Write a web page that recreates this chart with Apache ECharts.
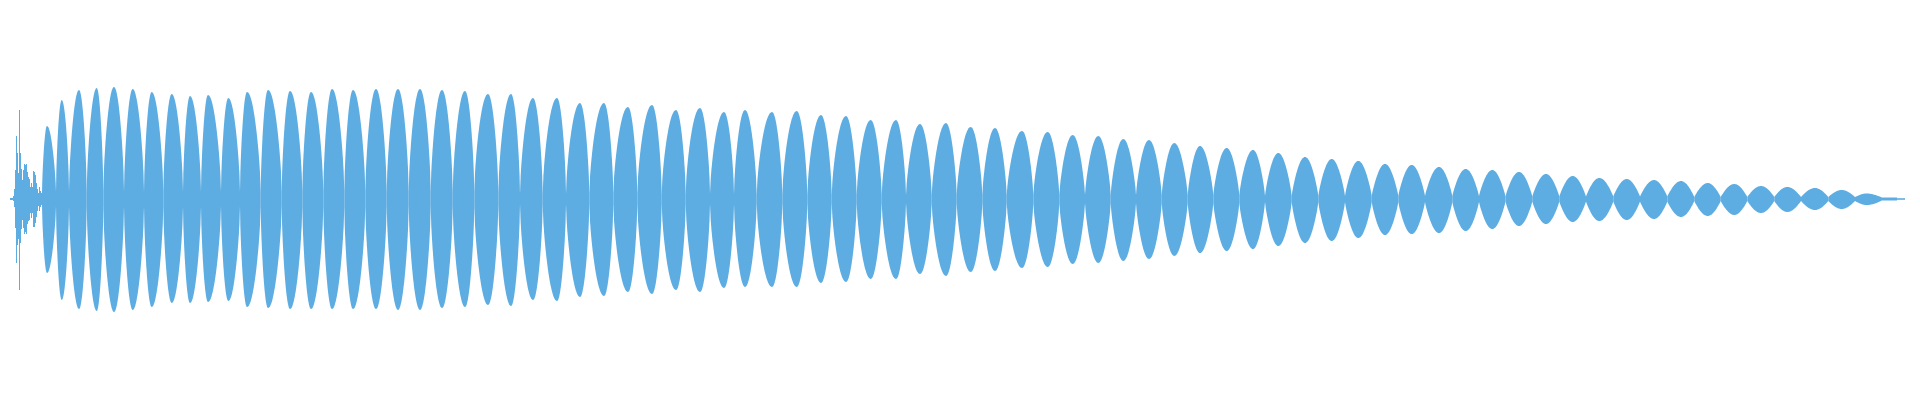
<!DOCTYPE html>
<html>
<head>
<meta charset="utf-8">
<script src="https://cdn.jsdelivr.net/npm/echarts@6/dist/echarts.min.js"></script>
<style>
html,body{margin:0;padding:0;background:#fff;}
#chart{width:1920px;height:400px;}
</style>
</head>
<body>
<div id="chart"></div>
<script>
// Waveform: beat lobes (node boundaries, peak position, upper / lower amplitude)
var lobeNodes = [42,56,69,86.7,103.3,124,144,163.3,183,201,221,240,260.7,281.7,302.3,323.3,344.3,365.3,386.7,408.7,430.7,452.7,474.3,498.3,520,542.7,566,589.3,613.3,637.3,661.7,685.7,710,734,756.7,782.3,807.3,831.7,856.7,881.7,906,931.7,956.7,982.3,1006.7,1033.3,1059.3,1085,1110.7,1136,1161.7,1187.7,1213.3,1239.3,1265,1291.7,1318.3,1345,1371.7,1398.3,1425,1452.3,1479,1505.5,1532.3,1559.3,1586,1613.3,1640,1667.3,1694.3,1720.7,1747.3,1774.3,1801,1828.3,1855,1882];
var lobePeaks = [47,61.7,79,96.7,114,132.7,151.7,171.7,190,208,228.3,247,268,290,311,332,353,376,398,420,442,465,488,511,533,557,580,604,628,652,676,700,724,745,772,796.7,821,846,870.7,896,920,946,970.7,995,1022,1047.7,1072.7,1098.3,1123.3,1149,1174.3,1200,1226.7,1253,1278.3,1305,1331.7,1358.3,1385,1411.7,1439,1465.7,1492.3,1519,1546,1572.7,1599.3,1626.7,1654,1681,1707.7,1734.3,1761,1787.3,1815,1841.7,1866.5];
var lobeTop = [73,99,109,111,112,110,107,105,103,104,101,107,109,108,107,110,109,110,110,110,109,108,105,105,101,101,96,96,92,94,89,91,87,89,87,88,84,83,79,79,75,76,72,71,68,67,64,63,60,59,56,53,51,49,46,42,40,38,35,34,32,30,29,27,25,23,21,20,19,18,16,15,13,12,11,9,5.5];
var lobeBottom = [74,101,110,112,113,111,108,104,104,103,102,108,109,110,110,110,110,110,111,111,109,108,106,107,101,102,98,97,93,95,91,93,89,88,88,88,84,83,80,80,75,77,73,72,69,68,65,64,62,60,57,54,52,50,47,44,42,39,36,35,34,32,30,27,25,23,22,21,20,18,17,16,14,13,11,10,6];
var nodeNeck = [6,7,7,7,7,7,7,7,7,7,7,7,7,7,7,7,7,7,7,7,7,7,7,6,5,5,5,5,5,5,5,5,5,5,4,4,4,4,4,4,4,4,4,4,4,4,4,4,4,4,4,4,4,4,3,3,3,3,3,3,3,3,3,2.5,2.5,2.5,2.5,2.5,2.5,2.5,2,2,2,2,2,2,2,1.5];
// Onset noise columns (one sample column each)
var onsetX = [10,11,12,13,14,15,16,17,18,19,20,21,22,23,24,25,26,27,28,29,30,31,32,33,34,35,36,37,38,39,40,41];
var onsetTop = [1,1,1,3,10,29,63,46,26,89,46,30,19,29,35,34,35,27,22,20,12,16,12,28,27,24,16,10,6,12,8,6];
var onsetBottom = [1,1,1,2,8,29,64,46,40,91,44,30,21,29,35,33,35,25,22,21,14,19,14,28,28,24,18,12,7,12,8,6];
// Decay tail segments [from, to]
var tailFrom = [1882,1897];
var tailTo = [1897,1905];
var tailAmp = [1.5,0.8];

var COLOR = '#5dade2';

var lobeData = [];
for (var i = 0; i < lobePeaks.length; i++) {
  lobeData.push([lobeNodes[i], lobeNodes[i+1], lobePeaks[i], lobeTop[i], lobeBottom[i], nodeNeck[i], nodeNeck[i+1]]);
}
var colData = [];
for (var j = 0; j < onsetX.length; j++) colData.push([onsetX[j], onsetX[j] + 1, onsetTop[j], onsetBottom[j]]);
for (var k = 0; k < tailFrom.length; k++) colData.push([tailFrom[k], tailTo[k], tailAmp[k], tailAmp[k]]);

function envelope(u, a0, a1) { // glyph shape of a lobe flank: taller lobes are fuller
  var p = 1 - 0.35 * Math.min(1, a1 / 90);
  return a0 + (a1 - a0) * Math.pow(Math.sin(u * Math.PI / 2), p);
}

function renderLobe(params, api) {
  var x0 = api.value(0), x1 = api.value(1), xp = api.value(2);
  var top = api.value(3), bot = api.value(4), n0 = api.value(5), n1 = api.value(6);
  var N = 20, pts = [], lower = [];
  var s;
  for (s = 0; s <= N; s++) {
    var u = s / N, x = x0 + (xp - x0) * u;
    pts.push(api.coord([x, envelope(u, n0, top)]));
    lower.push(api.coord([x, -envelope(u, n0, bot)]));
  }
  for (s = N - 1; s >= 0; s--) {
    var u2 = s / N, x2 = x1 - (x1 - xp) * u2;
    pts.push(api.coord([x2, envelope(u2, n1, top)]));
    lower.push(api.coord([x2, -envelope(u2, n1, bot)]));
  }
  var poly = pts.concat(lower.reverse());
  return { type: 'polygon', shape: { points: poly }, style: { fill: COLOR, stroke: null } };
}

function renderCol(params, api) {
  var p0 = api.coord([api.value(0), api.value(2)]);
  var p1 = api.coord([api.value(1), -api.value(3)]);
  return { type: 'rect', shape: { x: p0[0], y: p0[1], width: Math.max(1, p1[0] - p0[0]), height: p1[1] - p0[1] }, style: { fill: COLOR } };
}

var chart = echarts.init(document.getElementById('chart'), null, { renderer: 'canvas' });
chart.setOption({
  animation: false,
  backgroundColor: '#ffffff',
  grid: { left: 0, right: 0, top: 0, bottom: 0 },
  xAxis: { type: 'value', min: 0, max: 1920, show: false },
  yAxis: { type: 'value', min: -201, max: 199, show: false },
  series: [
    { type: 'custom', renderItem: renderLobe, data: lobeData, encode: { x: [0, 1], y: [3, 4] } },
    { type: 'custom', renderItem: renderCol, data: colData, encode: { x: [0, 1], y: [2, 3] } }
  ]
});
</script>
</body>
</html>
